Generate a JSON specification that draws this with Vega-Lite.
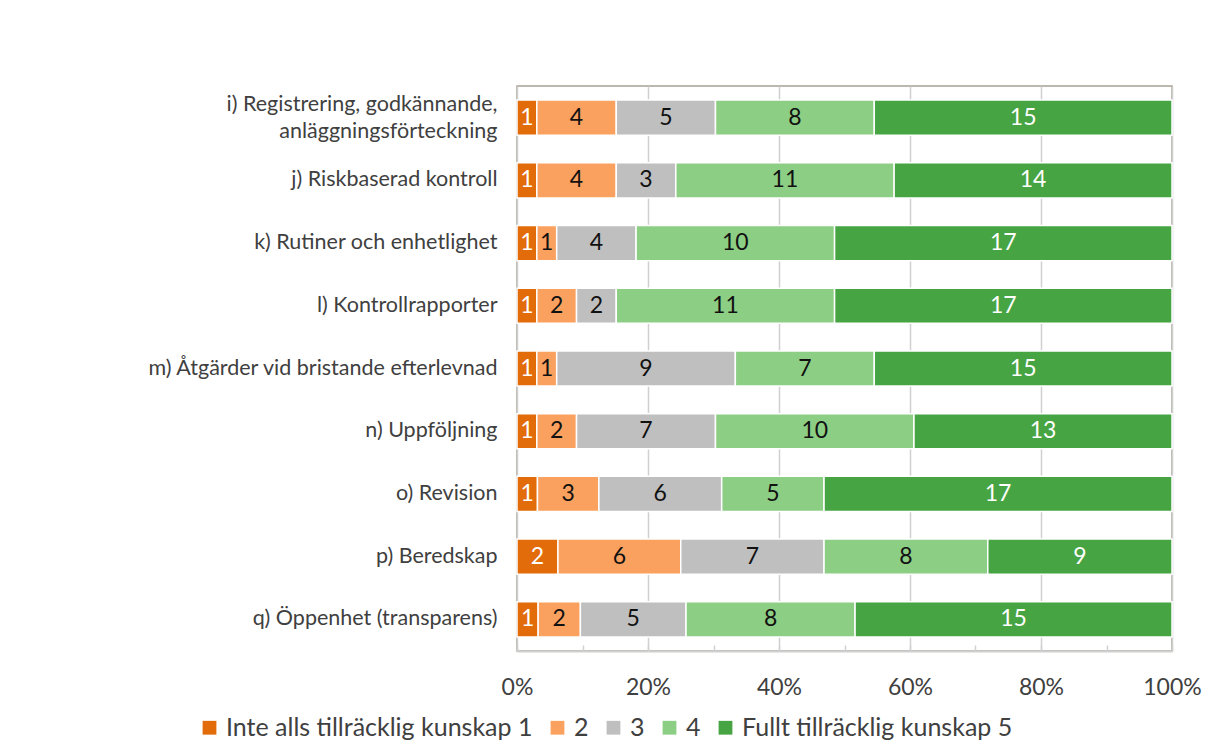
{
  "$schema": "https://vega.github.io/schema/vega-lite/v6.json",
  "width": 655,
  "height": 565,
  "autosize": {"type": "none"},
  "padding": {"left": 517, "top": 86, "right": 34, "bottom": 98},
  "background": "white",
  "config": {
    "font": "Lato",
    "view": {"stroke": "#A7A193", "strokeWidth": 1.5}
  },
  "data": {
    "values": [
      {"item": "i) Registrering, godkännande,|anläggningsförteckning", "level": 1, "cat": "Inte alls tillräcklig kunskap 1", "count": 1},
      {"item": "i) Registrering, godkännande,|anläggningsförteckning", "level": 2, "cat": "2", "count": 4},
      {"item": "i) Registrering, godkännande,|anläggningsförteckning", "level": 3, "cat": "3", "count": 5},
      {"item": "i) Registrering, godkännande,|anläggningsförteckning", "level": 4, "cat": "4", "count": 8},
      {"item": "i) Registrering, godkännande,|anläggningsförteckning", "level": 5, "cat": "Fullt tillräcklig kunskap 5", "count": 15},
      {"item": "j) Riskbaserad kontroll", "level": 1, "cat": "Inte alls tillräcklig kunskap 1", "count": 1},
      {"item": "j) Riskbaserad kontroll", "level": 2, "cat": "2", "count": 4},
      {"item": "j) Riskbaserad kontroll", "level": 3, "cat": "3", "count": 3},
      {"item": "j) Riskbaserad kontroll", "level": 4, "cat": "4", "count": 11},
      {"item": "j) Riskbaserad kontroll", "level": 5, "cat": "Fullt tillräcklig kunskap 5", "count": 14},
      {"item": "k) Rutiner och enhetlighet", "level": 1, "cat": "Inte alls tillräcklig kunskap 1", "count": 1},
      {"item": "k) Rutiner och enhetlighet", "level": 2, "cat": "2", "count": 1},
      {"item": "k) Rutiner och enhetlighet", "level": 3, "cat": "3", "count": 4},
      {"item": "k) Rutiner och enhetlighet", "level": 4, "cat": "4", "count": 10},
      {"item": "k) Rutiner och enhetlighet", "level": 5, "cat": "Fullt tillräcklig kunskap 5", "count": 17},
      {"item": "l) Kontrollrapporter", "level": 1, "cat": "Inte alls tillräcklig kunskap 1", "count": 1},
      {"item": "l) Kontrollrapporter", "level": 2, "cat": "2", "count": 2},
      {"item": "l) Kontrollrapporter", "level": 3, "cat": "3", "count": 2},
      {"item": "l) Kontrollrapporter", "level": 4, "cat": "4", "count": 11},
      {"item": "l) Kontrollrapporter", "level": 5, "cat": "Fullt tillräcklig kunskap 5", "count": 17},
      {"item": "m) Åtgärder vid bristande efterlevnad", "level": 1, "cat": "Inte alls tillräcklig kunskap 1", "count": 1},
      {"item": "m) Åtgärder vid bristande efterlevnad", "level": 2, "cat": "2", "count": 1},
      {"item": "m) Åtgärder vid bristande efterlevnad", "level": 3, "cat": "3", "count": 9},
      {"item": "m) Åtgärder vid bristande efterlevnad", "level": 4, "cat": "4", "count": 7},
      {"item": "m) Åtgärder vid bristande efterlevnad", "level": 5, "cat": "Fullt tillräcklig kunskap 5", "count": 15},
      {"item": "n) Uppföljning", "level": 1, "cat": "Inte alls tillräcklig kunskap 1", "count": 1},
      {"item": "n) Uppföljning", "level": 2, "cat": "2", "count": 2},
      {"item": "n) Uppföljning", "level": 3, "cat": "3", "count": 7},
      {"item": "n) Uppföljning", "level": 4, "cat": "4", "count": 10},
      {"item": "n) Uppföljning", "level": 5, "cat": "Fullt tillräcklig kunskap 5", "count": 13},
      {"item": "o) Revision", "level": 1, "cat": "Inte alls tillräcklig kunskap 1", "count": 1},
      {"item": "o) Revision", "level": 2, "cat": "2", "count": 3},
      {"item": "o) Revision", "level": 3, "cat": "3", "count": 6},
      {"item": "o) Revision", "level": 4, "cat": "4", "count": 5},
      {"item": "o) Revision", "level": 5, "cat": "Fullt tillräcklig kunskap 5", "count": 17},
      {"item": "p) Beredskap", "level": 1, "cat": "Inte alls tillräcklig kunskap 1", "count": 2},
      {"item": "p) Beredskap", "level": 2, "cat": "2", "count": 6},
      {"item": "p) Beredskap", "level": 3, "cat": "3", "count": 7},
      {"item": "p) Beredskap", "level": 4, "cat": "4", "count": 8},
      {"item": "p) Beredskap", "level": 5, "cat": "Fullt tillräcklig kunskap 5", "count": 9},
      {"item": "q) Öppenhet (transparens)", "level": 1, "cat": "Inte alls tillräcklig kunskap 1", "count": 1},
      {"item": "q) Öppenhet (transparens)", "level": 2, "cat": "2", "count": 2},
      {"item": "q) Öppenhet (transparens)", "level": 3, "cat": "3", "count": 5},
      {"item": "q) Öppenhet (transparens)", "level": 4, "cat": "4", "count": 8},
      {"item": "q) Öppenhet (transparens)", "level": 5, "cat": "Fullt tillräcklig kunskap 5", "count": 15}
    ]
  },
  "encoding": {
    "y": {
      "field": "item",
      "type": "nominal",
      "sort": null,
      "title": null,
      "scale": {"paddingInner": 0.44, "paddingOuter": 0.225},
      "axis": {
        "labelExpr": "split(datum.label, '|')",
        "labelFontSize": 21.5,
        "labelColor": "#404040",
        "labelPadding": 20,
        "labelOffset": {"condition": {"test": "indexof(datum.value, '|') >= 0", "value": -13}, "value": 0},
        "ticks": false,
        "domain": false,
        "labelLimit": 500,
        "labelLineHeight": 27
      }
    }
  },
  "layer": [
    {
      "mark": {"type": "bar", "stroke": "white", "strokeWidth": 1.5},
      "encoding": {
        "x": {
          "field": "count",
          "type": "quantitative",
          "stack": "normalize",
          "title": null,
          "scale": {"domain": [0, 1]},
          "axis": {
            "values": [0, 0.1, 0.2, 0.3, 0.4, 0.5, 0.6, 0.7, 0.8, 0.9, 1],
            "format": ".0%",
            "labelExpr": "round(datum.value*10) % 2 == 0 ? datum.label : ''",
            "labelFontSize": 23,
            "labelColor": "#404040",
            "labelPadding": 31,
            "labelFlush": false,
            "grid": true,
            "gridColor": "#D0D0D0",
            "gridWidth": 1.5,
            "gridOpacity": {"condition": {"test": "round(datum.value*10) % 2 == 0", "value": 1}, "value": 0},
            "tickSize": -6,
            "tickColor": "#D0D0D0",
            "tickWidth": 1.5,
            "domainColor": "#D0D0D0",
            "domainWidth": 2
          }
        },
        "color": {
          "field": "cat",
          "type": "nominal",
          "scale": {
            "domain": ["Inte alls tillräcklig kunskap 1", "2", "3", "4", "Fullt tillräcklig kunskap 5"],
            "range": ["#E26B0A", "#FBA15F", "#BFBFBF", "#8DCE85", "#47A443"]
          },
          "legend": {
            "title": null,
            "orient": "none",
            "legendX": -320,
            "legendY": 629,
            "padding": 0,
            "direction": "horizontal",
            "columns": 5,
            "symbolType": "square",
            "symbolSize": 190,
            "symbolStrokeWidth": 0,
            "labelFontSize": 25,
            "labelColor": "#404040",
            "labelOffset": 4,
            "columnPadding": 12,
            "labelLimit": 500
          }
        },
        "order": {"field": "level", "type": "quantitative"}
      }
    },
    {
      "mark": {"type": "text", "fontSize": 23, "baseline": "middle", "align": "center"},
      "encoding": {
        "x": {"field": "count", "type": "quantitative", "stack": "normalize", "bandPosition": 0.5},
        "detail": {"field": "level", "type": "nominal"},
        "order": {"field": "level", "type": "quantitative"},
        "text": {"field": "count", "type": "quantitative"},
        "color": {"condition": {"test": "datum.level == 1 || datum.level == 5", "value": "white"}, "value": "#111111"}
      }
    }
  ]
}
